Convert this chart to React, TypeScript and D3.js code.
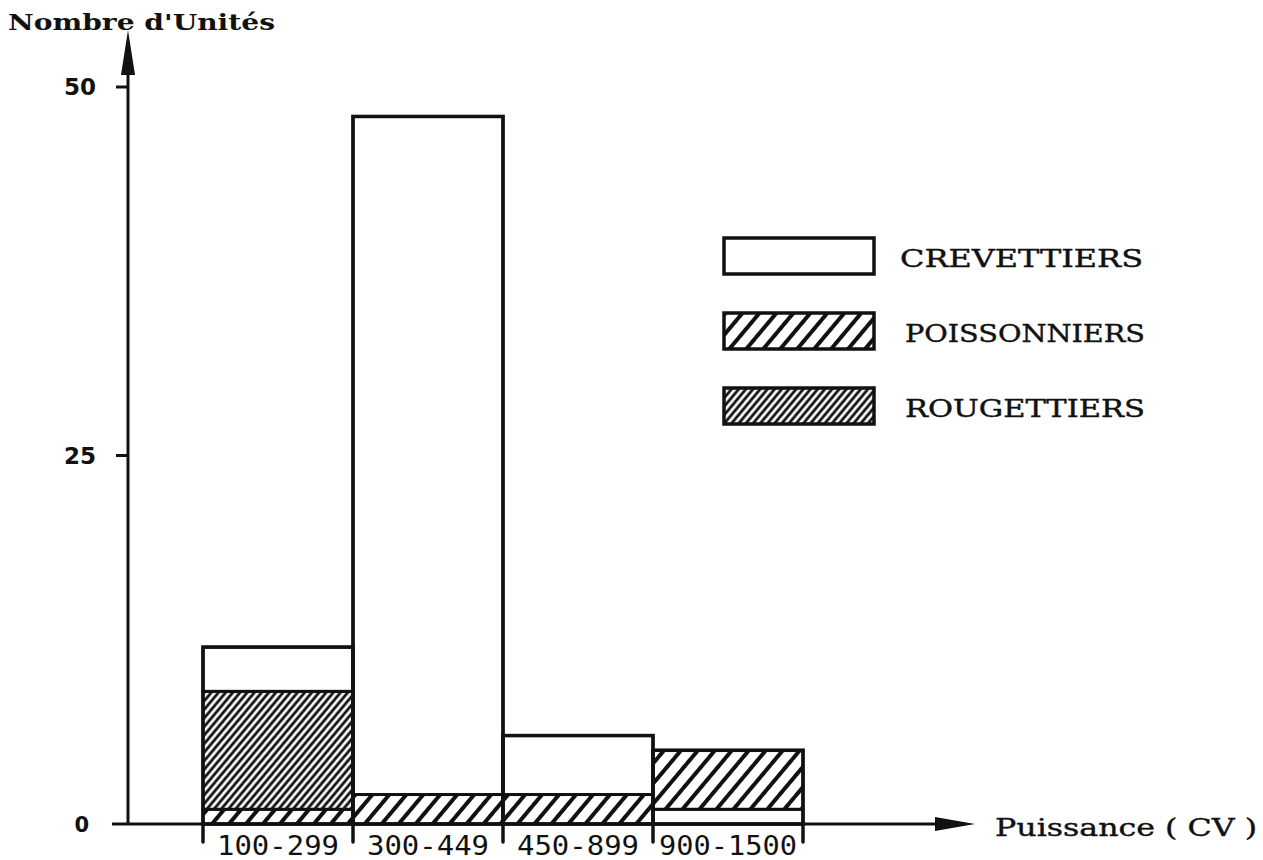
import * as d3 from "d3";

const categories = ["100-299", "300-449", "450-899", "900-1500"];
const crevettiers = [3, 46, 4, 1];
const poissonniers = [1, 2, 2, 4];
const rougettiers = [8, 0, 0, 0];
// bottom -> top order of the segments in each bar
const stackOrder = [
  ["poissonniers", "rougettiers", "crevettiers"],
  ["poissonniers", "rougettiers", "crevettiers"],
  ["poissonniers", "rougettiers", "crevettiers"],
  ["crevettiers", "poissonniers", "rougettiers"],
];
const yTicks = [0, 25, 50];
const legendItems = [
  { key: "crevettiers", label: "CREVETTIERS" },
  { key: "poissonniers", label: "POISSONNIERS" },
  { key: "rougettiers", label: "ROUGETTIERS" },
];

const W = 1263;
const H = 860;
const ink = "#111";
const serif = "'DejaVu Serif', 'Liberation Serif', serif";

const values: Record<string, number[]> = { crevettiers, poissonniers, rougettiers };
const fillFor: Record<string, string> = {
  crevettiers: "#fff",
  poissonniers: "url(#hatch-wide)",
  rougettiers: "url(#hatch-dense)",
};

export default function App() {
  const axisX = 128;
  const axisY = 824;
  const x = d3.scaleBand().domain(categories).range([203, 803]).padding(0);
  const y = d3.scaleLinear().domain([0, 50]).range([axisY, 87]);

  const segments = categories.flatMap((c, i) => {
    let base = 0;
    return stackOrder[i].map((k) => {
      const v = values[k][i];
      const seg = { cat: c, key: k, y0: base, y1: base + v };
      base += v;
      return seg;
    }).filter((s) => s.y1 > s.y0);
  });
  const totals = categories.map((_, i) => crevettiers[i] + poissonniers[i] + rougettiers[i]);

  return (
    <svg width={W} height={H} style={{ position: "absolute", left: 0, top: 0, background: "#fff" }}>
      <defs>
        <pattern id="hatch-wide" width={13} height={13} patternUnits="userSpaceOnUse" patternTransform="rotate(40)">
          <rect width={13} height={13} fill="#fff" />
          <line x1={3} y1={0} x2={3} y2={13} stroke={ink} strokeWidth={4} />
        </pattern>
        <pattern id="hatch-dense" width={5.5} height={5.5} patternUnits="userSpaceOnUse" patternTransform="rotate(40)">
          <rect width={5.5} height={5.5} fill="#fff" />
          <line x1={2} y1={0} x2={2} y2={5.5} stroke={ink} strokeWidth={2.8} />
        </pattern>
      </defs>

      {/* title */}
      <text x={8} y={30} fontFamily={serif} fontSize={22} fontWeight="bold" fill={ink} textLength={267} lengthAdjust="spacingAndGlyphs">
        Nombre d'Unités
      </text>

      {/* bars */}
      {segments.map((s, i) => (
        <rect key={i} x={x(s.cat)} y={y(s.y1)} width={x.bandwidth()} height={y(s.y0) - y(s.y1)}
          fill={fillFor[s.key]} stroke={ink} strokeWidth={3} />
      ))}
      {categories.map((c, i) => (
        <rect key={c} x={x(c)} y={y(totals[i])} width={x.bandwidth()} height={axisY - y(totals[i])}
          fill="none" stroke={ink} strokeWidth={3.5} />
      ))}

      {/* y axis */}
      <line x1={axisX} y1={axisY} x2={axisX} y2={60} stroke={ink} strokeWidth={3} />
      <path d={`M${axisX},30 L${axisX - 7},75 L${axisX + 7},75 Z`} fill={ink} />
      {yTicks.map((t) => (
        <g key={t}>
          {t > 0 && <line x1={axisX - 12} x2={axisX} y1={y(t)} y2={y(t)} stroke={ink} strokeWidth={3} />}
          <text x={t === 0 ? 89 : 96} y={y(t)} dy="0.36em" textAnchor="end" fontFamily="'DejaVu Sans', sans-serif"
            fontWeight="bold" fontSize={t === 0 ? 21 : 23} fill={ink}>{t}</text>
        </g>
      ))}

      {/* x axis */}
      <line x1={112} y1={axisY} x2={945} y2={axisY} stroke={ink} strokeWidth={3} />
      <path d={`M975,${axisY} L935,${axisY - 7} L935,${axisY + 7} Z`} fill={ink} />
      {[...categories.map((c) => x(c) as number), 803].map((px, i) => (
        <line key={i} x1={px} x2={px} y1={axisY - 2} y2={axisY + 18} stroke={ink} strokeWidth={3.5} strokeLinecap="round" />
      ))}
      {categories.map((c) => (
        <text key={c} x={(x(c) as number) + x.bandwidth() / 2} y={axisY + 31} textAnchor="middle"
          fontFamily="'DejaVu Sans Mono', monospace" fontSize={26} fill={ink}
          textLength={c.length > 7 ? 138 : 122} lengthAdjust="spacingAndGlyphs">{c}</text>
      ))}
      <text x={995} y={836} fontFamily={serif} fontSize={25} fill={ink} stroke={ink} strokeWidth={0.4}
        textLength={262} lengthAdjust="spacingAndGlyphs">
        Puissance ( CV )
      </text>

      {/* legend */}
      {legendItems.map((it, i) => {
        const top = 238 + i * 75;
        return (
          <g key={it.key}>
            <rect x={724} y={top} width={150} height={36} fill={fillFor[it.key]} stroke={ink} strokeWidth={3.5} />
            <text x={i === 0 ? 900 : 905} y={top + 29} fontFamily={serif} fontSize={24} fill={ink}
              stroke={ink} strokeWidth={0.4}
              textLength={i === 0 ? 243 : 240} lengthAdjust="spacingAndGlyphs">{it.label}</text>
          </g>
        );
      })}
    </svg>
  );
}
